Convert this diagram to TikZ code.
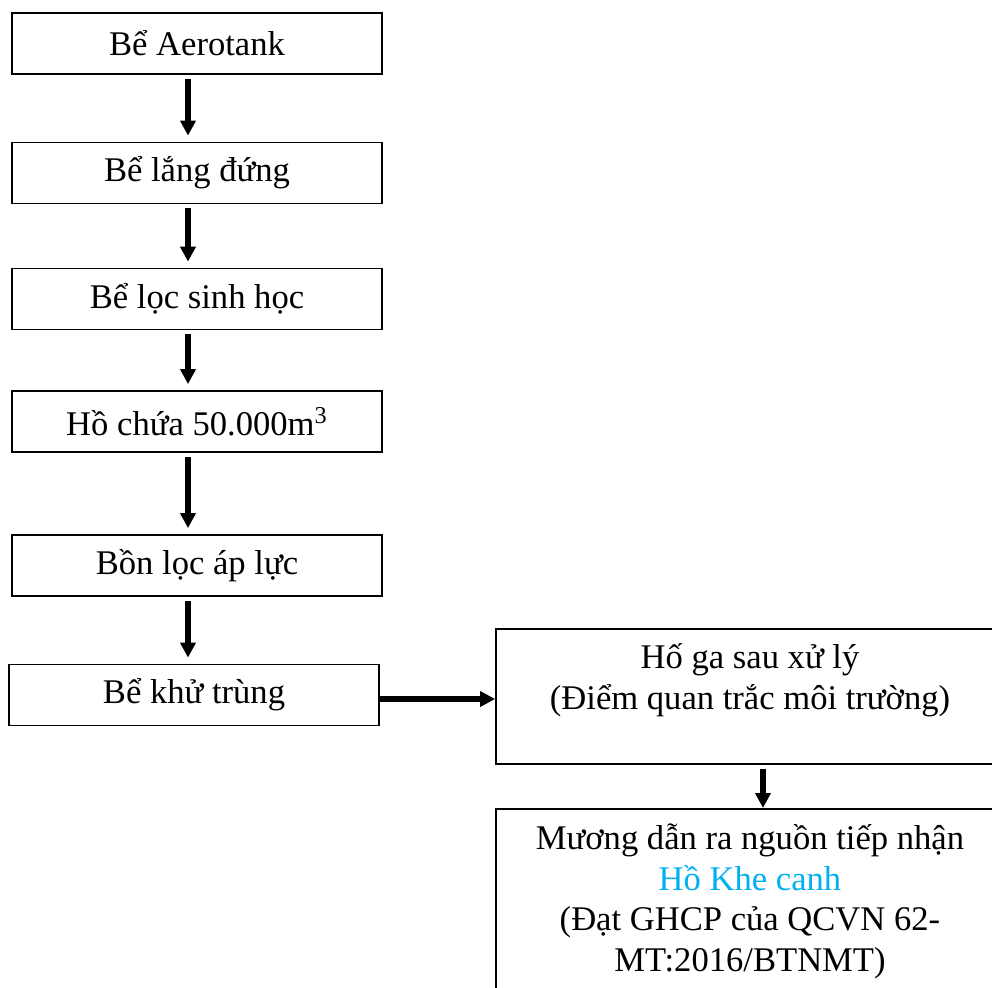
\documentclass[tikz,border=0pt]{standalone}
\usepackage{fontspec}
\setmainfont{Liberation Serif}
\usetikzlibrary{positioning,arrows.meta}
\definecolor{kheblue}{RGB}{0,176,240}

\begin{document}
\begin{tikzpicture}[x=0.5pt,y=-0.5pt,>={Triangle[length=7.5pt,width=7.5pt]},
  stage/.style={draw,line width=0.9pt,minimum width=185pt,minimum height=30.5pt,inner sep=0pt,font=\fontsize{17.3}{20.3}\selectfont},
  outbox/.style={draw,line width=0.9pt,minimum width=254pt,inner xsep=0pt,align=center,font=\fontsize{17.3}{20.3}\selectfont},
  flow/.style={->,line width=2.6pt,shorten <=2pt,shorten >=3pt}]
\useasboundingbox (0,0) rectangle (992,987);
\clip (0,0) rectangle (992,987);
\node[stage] (aero) at (197,43.5) {Bể Aerotank};
\node[stage] (lang) at (197,173) {Bể lắng đứng};
\node[stage] (loc) at (197,299) {Bể lọc sinh học};
\node[stage] (ho) at (197,421.5) {Hồ chứa 50.000m\textsuperscript{3}};
\node[stage] (bon) at (197,565.5) {Bồn lọc áp lực};
\node[stage] (khu) at (194,695) {Bể khử trùng};
\node[outbox,minimum height=67.5pt] (hoga) at (750,696.5) {Hố ga sau xử lý\\(Điểm quan trắc môi trường)\\ ~};
\node[outbox,anchor=north,inner ysep=7.5pt] (muong) at (750,808) {Mương dẫn ra nguồn tiếp nhận\\{\color{kheblue}Hồ Khe canh}\\(Đạt GHCP của QCVN 62-\\MT:2016/BTNMT)\\ ~};
\draw[flow] ([xshift=-4.5pt]aero.south) -- ([xshift=-4.5pt]lang.north);
\draw[flow] ([xshift=-4.5pt]lang.south) -- ([xshift=-4.5pt]loc.north);
\draw[flow] ([xshift=-4.5pt]loc.south) -- ([xshift=-4.5pt]ho.north);
\draw[flow] ([xshift=-4.5pt]ho.south) -- ([xshift=-4.5pt]bon.north);
\draw[flow] ([xshift=-4.5pt]bon.south) -- ([xshift=-4.5pt]bon.south |- khu.north);
\draw[->,line width=2.6pt] ([yshift=-2pt]khu.east) -- ([yshift=-2pt]khu.east -| hoga.west);
\draw[->,line width=2.6pt,shorten <=2pt] ([xshift=6.5pt]hoga.south) -- ([xshift=6.5pt]muong.north);
\end{tikzpicture}
\end{document}
